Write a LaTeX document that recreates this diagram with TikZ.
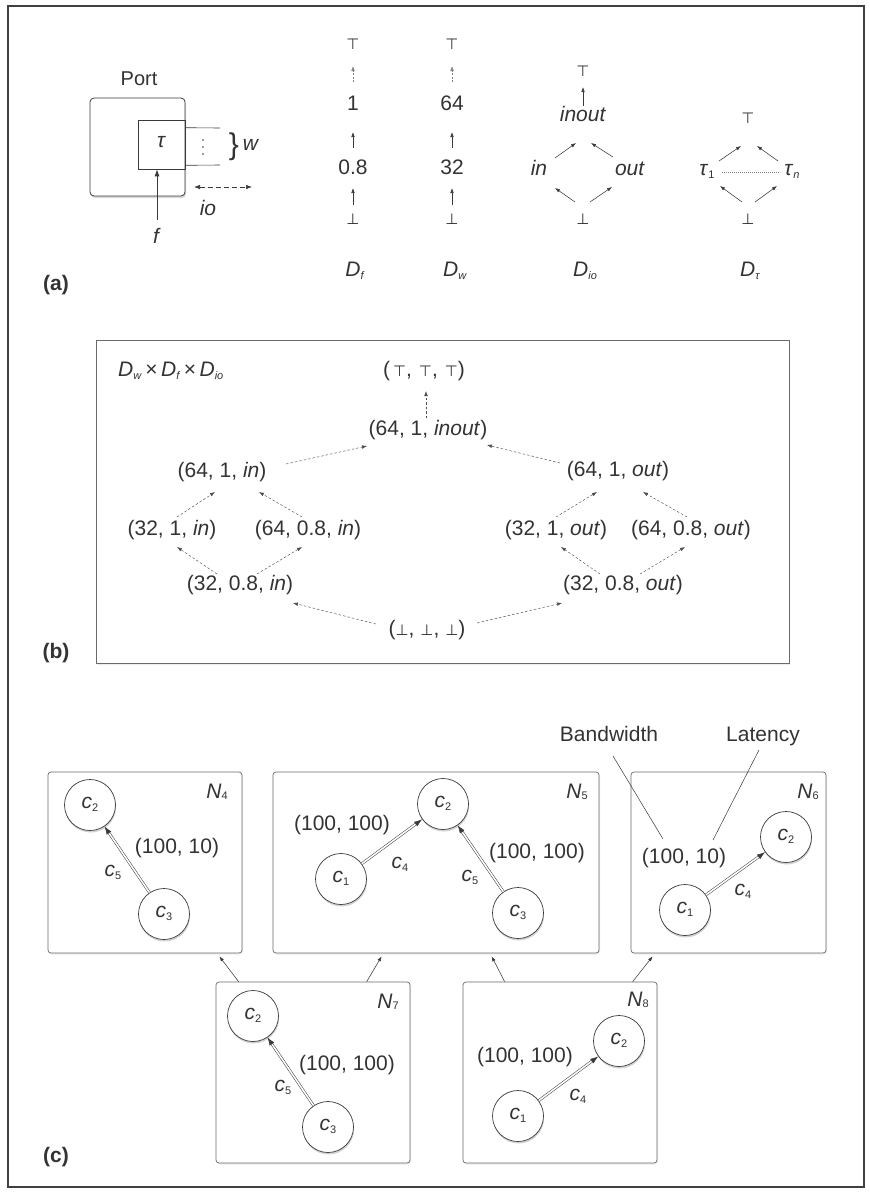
\documentclass[tikz,border=0pt]{standalone}
\usepackage{fontspec}
\setmainfont{Liberation Sans}
\newfontfamily\dvs{DejaVu Sans}
\usetikzlibrary{arrows.meta,shadows,calc}
\definecolor{txt}{HTML}{333333}
\definecolor{ln}{HTML}{3A3A3A}
\definecolor{bx}{HTML}{6A6A6A}
\newcommand\mfs{\fontsize{21}{25}\selectfont}
\newcommand\lsub[2][-3]{\raisebox{#1pt}{\fontsize{11}{11}\selectfont #2}}
\newcommand\tp{{\dvs\fontsize{15}{15}\selectfont ⊤}}
\newcommand\bt{{\dvs\fontsize{15}{15}\selectfont ⊥}}
\newcommand\cc[1]{\textit{c}\lsub{#1}}
\begin{document}
\begin{tikzpicture}[x=1pt,y=-1pt,
  every node/.style={text=txt, font=\mfs, inner sep=0pt, text height=1.5ex, text depth=.25ex},
  arr/.style={draw=ln, line width=.55pt, -{Latex[length=5pt,width=3.6pt]}},
  darrA/.style={arr, draw=gray, dash pattern=on 2pt off 1.5pt},
  darr/.style={draw=ln!90, line width=.45pt, dash pattern=on 2.5pt off 2pt, -{Latex[length=5pt,width=3.6pt]}},
  portbox/.style={draw=ln, line width=.8pt, rounded corners=4pt, fill=white,
     drop shadow={shadow xshift=1pt, shadow yshift=-2pt, opacity=.3}},
  bbox/.style={draw=bx, line width=.8pt, fill=white,
     drop shadow={shadow xshift=1pt, shadow yshift=-1.5pt, opacity=.15}},
  cbox/.style={draw=bx, line width=.7pt, rounded corners=3pt, fill=white,
     drop shadow={shadow xshift=1pt, shadow yshift=-1.5pt, opacity=.15}},
  circ/.style={circle, draw=ln, line width=.7pt, fill=white, minimum size=51pt,
     drop shadow={shadow xshift=.6pt, shadow yshift=-2pt, opacity=.35}},
  dbl/.style={draw=ln, line width=.5pt, double=white, double distance=1.6pt, shorten >=7pt},
  tipst/.style={draw=ln, line width=.5pt, -{Latex[length=8pt,width=5.5pt]}},
]
\useasboundingbox (0,0) rectangle (870,1192);
\fill[white] (0,0) rectangle (870,1192);
\draw[draw=black!75, line width=1.2pt] (8,6) rectangle (864,1187);

% ---------------- (a) ----------------
\node[font=\fontsize{20}{24}\selectfont] (portlbl) at (139,82) {Port};
\node[portbox, minimum width=95pt, minimum height=98pt] (port) at (137.5,147) {};
\node[draw=ln, line width=.6pt, minimum width=47pt, minimum height=49pt] (tau) at (161.5,144.5) {\textit{τ}};
\coordinate (w1) at (220,128);
\coordinate (w2) at (220,165);
\draw[draw=ln, line width=.6pt] ([shift={(0,8)}]tau.north east) -- (w1);
\draw[draw=ln, line width=.6pt] ([shift={(0,-4)}]tau.south east) -- (w2);
\fill[ln] (203,140) circle (0.9) (203,147) circle (0.9) (203,154) circle (0.9);
\node[font=\fontsize{30}{30}\selectfont, text height=, text depth=] (brace) at (234,147) {\}};
\node (wl) at (251,147) {\textit{w}};
\coordinate (io1) at (194,187);
\coordinate (io2) at (252,187);
\draw[draw=ln, line width=.6pt, dash pattern=on 5pt off 3pt,
  {Latex[length=6pt,width=4.5pt]}-{Latex[length=6pt,width=4.5pt]}] (io1) -- (io2);
\node (iol) at (208,212) {\textit{io}};
\node (fl) at (157,240) {\textit{f}};
\draw[draw=ln, line width=.8pt, -{Latex[length=7pt,width=5pt]}] ([shift={(0,-20)}]fl.center) -- ([shift={(-4.5,0)}]tau.south);
\node[font=\bfseries\mfs] (la) at (56,287) {(a)};

% D_f
\node (ft) at (353,46) {\tp};
\node (f1) at (353,107) {1};
\node (f08) at (353,171) {0.8};
\node (fb) at (353,221) {\bt};
\node (Df) at (355,273) {\textit{D}\lsub{\textit{f}}};
\draw[darrA] ([shift={(0,-25)}]f1.center) -- ([shift={(0,20)}]ft.center);
\draw[arr] ([shift={(0,-23)}]f08.center) -- ([shift={(0,25)}]f1.center);
\draw[arr] ([shift={(0,-16)}]fb.center) -- ([shift={(0,17)}]f08.center);
% D_w
\node (wt) at (452,46) {\tp};
\node (w64) at (452,107) {64};
\node (w32) at (452,171) {32};
\node (wb) at (452,221) {\bt};
\node (Dw) at (455,273) {\textit{D}\lsub{\textit{w}}};
\draw[darrA] ([shift={(0,-25)}]w64.center) -- ([shift={(0,20)}]wt.center);
\draw[arr] ([shift={(0,-23)}]w32.center) -- ([shift={(0,25)}]w64.center);
\draw[arr] ([shift={(0,-16)}]wb.center) -- ([shift={(0,17)}]w32.center);
% D_io
\node (ioT) at (583,73) {\tp};
\node (ioIO) at (583,118) {\textit{inout}};
\node (ioIn) at (539,172) {\textit{in}};
\node (ioOut) at (630,172) {\textit{out}};
\node (ioB) at (583,221) {\bt};
\node (Dio) at (585,273) {\textit{D}\lsub{\textit{io}}};
\draw[arr] ([shift={(0,-12)}]ioIO.center) -- ([shift={(0,14)}]ioT.center);
\draw[arr] ([shift={(16,-14)}]ioIn.center) -- ([shift={(-7,25)}]ioIO.center);
\draw[arr] ([shift={(-17,-15)}]ioOut.center) -- ([shift={(8,25)}]ioIO.center);
\draw[arr] ([shift={(-8,-19)}]ioB.center) -- ([shift={(16,16)}]ioIn.center);
\draw[arr] ([shift={(7,-19)}]ioB.center) -- ([shift={(-18,15)}]ioOut.center);
% D_tau
\node (tT) at (748,120) {\tp};
\node (t1) at (707,172) {\textit{τ}\lsub{1}};
\node (tn) at (792,172) {\textit{τ}\lsub{\textit{n}}};
\node (tB) at (748,221) {\bt};
\node (Dt) at (750,273) {\textit{D}\lsub{\textit{τ}}};
\draw[arr] ([shift={(12,-11)}]t1.center) -- ([shift={(-7,26)}]tT.center);
\draw[arr] ([shift={(-14,-11)}]tn.center) -- ([shift={(9,26)}]tT.center);
\draw[arr] ([shift={(-6,-19)}]tB.center) -- ([shift={(13,14)}]t1.center);
\draw[arr] ([shift={(7,-19)}]tB.center) -- ([shift={(-15,14)}]tn.center);
\draw[draw=gray, line width=.5pt, dash pattern=on .8pt off 1.2pt] ([shift={(15,0)}]t1.center) -- ([shift={(-12,0)}]tn.center);

% ---------------- (b) ----------------
\node[bbox, minimum width=693pt, minimum height=323pt] (B) at (442.5,501.5) {};
\node[anchor=west] (btitle) at (118,373) {\textit{D}\lsub{\textit{w}}\,×\,\textit{D}\lsub{\textit{f}}\,×\,\textit{D}\lsub{\textit{io}}};
\node (T3) at (424,373) {(\kern3pt\tp,\kern7pt\tp,\kern7pt\tp)};
\node (io) at (428,432) {(64, 1, \textit{inout})};
\node (i64) at (222,474) {(64, 1, \textit{in})};
\node (o64) at (618,473) {(64, 1, \textit{out})};
\node (i32) at (172,532) {(32, 1, \textit{in})};
\node (i648) at (308,532) {(64, 0.8, \textit{in})};
\node (o32) at (556,532) {(32, 1, \textit{out})};
\node (o648) at (691,532) {(64, 0.8, \textit{out})};
\node (i328) at (240,587) {(32, 0.8, \textit{in})};
\node (o328) at (623,587) {(32, 0.8, \textit{out})};
\node (b3) at (427,632) {(\bt,\kern6pt\bt,\kern6pt\bt)};
\node[font=\bfseries\mfs] (lb) at (56,655) {(b)};
\draw[darr] ([shift={(-2,-14)}]io.center) -- ([shift={(2,18)}]T3.center);
\draw[darr] ([shift={(64,-10)}]i64.center) -- ([shift={(-61,14)}]io.center);
\draw[darr] ([shift={(-58,-10)}]o64.center) -- ([shift={(59,13)}]io.center);
\draw[darr] ([shift={(5,-15)}]i32.center) -- ([shift={(-7,18)}]i64.center);
\draw[darr] ([shift={(-6,-15)}]i648.center) -- ([shift={(37,18)}]i64.center);
\draw[darr] ([shift={(-23,-13)}]i328.center) -- ([shift={(5,15)}]i32.center);
\draw[darr] ([shift={(17,-13)}]i328.center) -- ([shift={(-6,15)}]i648.center);
\draw[darr] ([shift={(-51,-8)}]b3.center) -- ([shift={(53,16)}]i328.center);
\draw[darr] ([shift={(0,-15)}]o32.center) -- ([shift={(-21,19)}]o64.center);
\draw[darr] ([shift={(-4,-15)}]o648.center) -- ([shift={(25,19)}]o64.center);
\draw[darr] ([shift={(-23,-13)}]o328.center) -- ([shift={(5,15)}]o32.center);
\draw[darr] ([shift={(17,-13)}]o328.center) -- ([shift={(-6,15)}]o648.center);
\draw[darr] ([shift={(50,-9)}]b3.center) -- ([shift={(-61,16)}]o328.center);

% ---------------- (c) ----------------
\node[cbox, minimum width=194pt, minimum height=181pt] (N4) at (145,862.5) {};
\node[cbox, minimum width=326pt, minimum height=181pt] (N5) at (436,862.5) {};
\node[cbox, minimum width=195pt, minimum height=181pt] (N6) at (728.5,862.5) {};
\node[cbox, minimum width=194pt, minimum height=181pt] (N7) at (313,1072.5) {};
\node[cbox, minimum width=194pt, minimum height=181pt] (N8) at (560,1072.5) {};

\node (N4l) at (217,795) {\textit{N}\lsub[-1]{4}};
\node (N5l) at (577,795) {\textit{N}\lsub[-1]{5}};
\node (N6l) at (808,795) {\textit{N}\lsub[-1]{6}};
\node (N7l) at (388,1005) {\textit{N}\lsub[-1]{7}};
\node (N8l) at (638,1003) {\textit{N}\lsub[-1]{8}};

% N4
\node[circ] (a2) at (90,805) {\cc{2}};
\node[circ] (a3) at (164,914) {\cc{3}};
\draw[dbl] (a3) -- (a2);
\draw[tipst] ($(a2)!34pt!(a3)$) -- (a2);
\node (a1l) at (177,850) {(100, 10)};
\node (a5l) at (113,873) {\cc{5}};
% N5
\node[circ] (b2) at (443,804) {\cc{2}};
\node[circ] (b1) at (341,879) {\cc{1}};
\node[circ] (bb3) at (518,913) {\cc{3}};
\draw[dbl] (b1) -- (b2);
\draw[tipst] ($(b2)!34pt!(b1)$) -- (b2);
\draw[dbl] (bb3) -- (b2);
\draw[tipst] ($(b2)!34pt!(bb3)$) -- (b2);
\node (b4l) at (342,827) {(100, 100)};
\node (b5l) at (537,855) {(100, 100)};
\node (b4c) at (400,865) {\cc{4}};
\node (b5c) at (470,878) {\cc{5}};
% N6
\node[circ] (d2) at (786,837) {\cc{2}};
\node[circ] (d1) at (685,910) {\cc{1}};
\draw[dbl] (d1) -- (d2);
\draw[tipst] ($(d2)!34pt!(d1)$) -- (d2);
\node (d4l) at (684,860) {(100, 10)};
\node (d4c) at (743,892) {\cc{4}};
% N7
\node[circ] (e2) at (253,1016) {\cc{2}};
\node[circ] (e3) at (328,1127) {\cc{3}};
\draw[dbl] (e3) -- (e2);
\draw[tipst] ($(e2)!34pt!(e3)$) -- (e2);
\node (e5l) at (347,1067) {(100, 100)};
\node (e5c) at (283,1088) {\cc{5}};
% N8
\node[circ] (g2) at (619,1041) {\cc{2}};
\node[circ] (g1) at (518,1116) {\cc{1}};
\draw[dbl] (g1) -- (g2);
\draw[tipst] ($(g2)!34pt!(g1)$) -- (g2);
\node (g4l) at (525,1059) {(100, 100)};
\node (g4c) at (578,1097) {\cc{4}};

% annotations
\node (bw) at (609,738) {Bandwidth};
\node (lat) at (763,738) {Latency};
\draw[draw=ln, line width=.5pt] ([shift={(4,18)}]bw.center) -- ([shift={(-21,-21)}]d4l.center);
\draw[draw=ln, line width=.5pt] ([shift={(-4,12)}]lat.center) -- ([shift={(29,-20)}]d4l.center);

% refinement arrows
\draw[arr] ([shift={(23,0)}]N7.north west) -- ([shift={(-23,3)}]N4.south east);
\draw[arr] ([shift={(151,0)}]N7.north west) -- ([shift={(109,3)}]N5.south west);
\draw[arr] ([shift={(42,0)}]N8.north west) -- ([shift={(219,3)}]N5.south west);
\draw[arr] ([shift={(170,0)}]N8.north west) -- ([shift={(22,3)}]N6.south west);

\node[font=\bfseries\mfs] (lc) at (56,1159) {(c)};
\end{tikzpicture}
\end{document}
